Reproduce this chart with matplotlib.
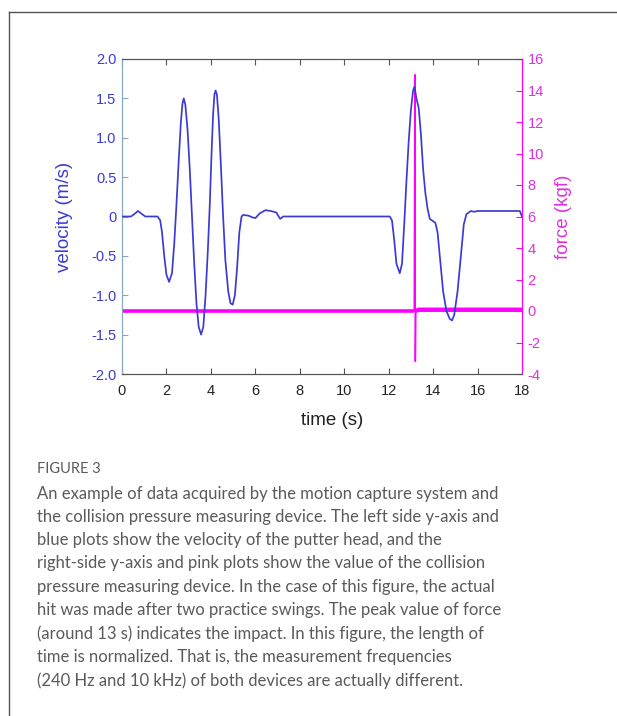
import matplotlib
matplotlib.use("Agg")
import matplotlib.pyplot as plt
from matplotlib.lines import Line2D

plt.rcParams["font.family"] = ["Liberation Sans", "DejaVu Sans"]
plt.rcParams["axes.unicode_minus"] = False

# velocity of the putter head (m/s)
vel_t = [0.0, 0.4, 0.55, 0.72, 0.9, 1.05, 1.6, 1.72, 1.8, 1.9, 2.0, 2.12, 2.25, 2.35, 2.45,
         2.55, 2.65, 2.72, 2.78, 2.85, 2.95, 3.05, 3.15, 3.25, 3.35, 3.45, 3.56, 3.66, 3.76,
         3.86, 3.95, 4.03, 4.1, 4.16, 4.21, 4.27, 4.35, 4.45, 4.55, 4.65, 4.78, 4.88, 4.98,
         5.08, 5.18, 5.28, 5.38, 5.45, 5.7, 5.85, 6.0, 6.2, 6.45, 6.7, 6.95, 7.05, 7.12,
         7.25, 9.5, 11.5, 12.05, 12.15, 12.25, 12.35, 12.5, 12.6, 12.7, 12.8, 12.9, 13.0,
         13.1, 13.16, 13.25, 13.35, 13.45, 13.55, 13.65, 13.75, 13.85, 14.0, 14.1, 14.2,
         14.3, 14.45, 14.6, 14.75, 14.85, 14.95, 15.1, 15.25, 15.38, 15.5, 15.7, 15.85,
         16.0, 17.0, 17.9, 18.0]
vel_v = [0.0, 0.0, 0.03, 0.07, 0.03, 0.0, 0.0, -0.05, -0.2, -0.5, -0.74, -0.83, -0.72, -0.35,
         0.15, 0.7, 1.2, 1.43, 1.5, 1.42, 1.1, 0.6, 0.0, -0.6, -1.1, -1.4, -1.5, -1.4, -1.0,
         -0.45, 0.15, 0.8, 1.3, 1.55, 1.6, 1.55, 1.25, 0.65, 0.0, -0.55, -0.95, -1.1, -1.12,
         -1.0, -0.65, -0.2, 0.0, 0.02, 0.01, -0.01, -0.02, 0.04, 0.08, 0.07, 0.05, 0.0, -0.03,
         0.0, 0.0, 0.0, 0.0, -0.05, -0.3, -0.6, -0.72, -0.6, -0.1, 0.45, 0.95, 1.35,
         1.6, 1.65, 1.5, 1.38, 1.05, 0.6, 0.3, 0.1, -0.03, -0.06, -0.08, -0.2,
         -0.5, -0.95, -1.2, -1.3, -1.32, -1.25, -0.95, -0.5, -0.1, 0.03, 0.07, 0.06,
         0.07, 0.07, 0.07, 0.0]

# collision pressure (kgf): baseline before impact, spike at impact, baseline after
force_t = [0.0, 13.15, 13.18, 13.2, 13.22, 13.35, 18.0]
force_v = [0.0, 0.0, 15.0, -3.2, 0.0, 0.08, 0.08]

BLUE = "#3b3bd4"
MAG = "#ff00ff"
MAG_TXT = "#e030e0"
SPINE_L = "#86a8c4"

fig = plt.figure(figsize=(6.17, 7.16), dpi=100)
ax = fig.add_axes([122/617, 1-374/716, 400/617, 315/716])
ax2 = ax.twinx()

ax2.plot(force_t[:2], force_v[:2], color=MAG, lw=2.6, solid_capstyle="butt")
ax2.plot(force_t[1:5], force_v[1:5], color=MAG, lw=1.1)
ax2.plot(force_t[4:], force_v[4:], color=MAG, lw=3.2, solid_capstyle="butt")
ax.plot(vel_t, vel_v, color=BLUE, lw=1.25, zorder=3)
ax.set_zorder(ax2.get_zorder() + 1)
ax.patch.set_visible(False)

ax.set_xlim(0, 18)
ax.set_ylim(-2, 2)
ax2.set_ylim(-4, 16)
ax.set_xticks(range(0, 19, 2))
ax.set_yticks([-2, -1.5, -1, -0.5, 0, 0.5, 1, 1.5, 2])
ax.set_yticklabels(["-2.0", "-1.5", "-1.0", "-0.5", "0", "0.5", "1.0", "1.5", "2.0"])
ax2.set_yticks(range(-4, 17, 2))

ax.tick_params(axis="x", direction="in", top=True, length=4, colors="#555555",
               labelcolor="#222222", labelsize=10.5, pad=7)
ax.tick_params(axis="y", direction="in", length=4, colors=SPINE_L,
               labelcolor=BLUE, labelsize=10.5, pad=4)
ax2.tick_params(axis="y", direction="in", length=4, colors=MAG,
                labelcolor=MAG_TXT, labelsize=10.5, pad=4)

for a in (ax, ax2):
    a.spines["top"].set_color("#555555")
    a.spines["bottom"].set_color("#555555")
    a.spines["left"].set_color(SPINE_L)
    a.spines["right"].set_color(MAG)

ax.set_xlabel("time (s)", fontsize=13.5, color="#222222")
ax.xaxis.set_label_coords(0.525, -0.12)
ax.set_ylabel("velocity (m/s)", fontsize=13.5, color=BLUE)
ax.yaxis.set_label_coords(-0.1225, 0.5)
ax2.set_ylabel("force (kgf)", fontsize=13.5, color=MAG_TXT)
ax2.yaxis.set_label_coords(1.083, 0.5)

# page frame
fig.add_artist(Line2D([9/617, 9/617], [0, 1-12/716], color="#555555", lw=1.0))
fig.add_artist(Line2D([9/617, 1], [1-12/716, 1-12/716], color="#555555", lw=1.0))

caption = ("An example of data acquired by the motion capture system and\n"
           "the collision pressure measuring device. The left side y-axis and\n"
           "blue plots show the velocity of the putter head, and the\n"
           "right-side y-axis and pink plots show the value of the collision\n"
           "pressure measuring device. In the case of this figure, the actual\n"
           "hit was made after two practice swings. The peak value of force\n"
           "(around 13 s) indicates the impact. In this figure, the length of\n"
           "time is normalized. That is, the measurement frequencies\n"
           "(240 Hz and 10 kHz) of both devices are actually different.")
cap_font = ["Lato", "DejaVu Sans"]
fig.text(37/617, 1-469/716, "FIGURE 3", fontsize=10.5, color="#5a5a5a",
         family=cap_font, va="center", ha="left")
fig.text(37/617, 1-485.5/716, caption, fontsize=12, color="#5a5a5a",
         family=cap_font, va="top", ha="left", linespacing=1.56)

fig.savefig("out.png", dpi=100)
